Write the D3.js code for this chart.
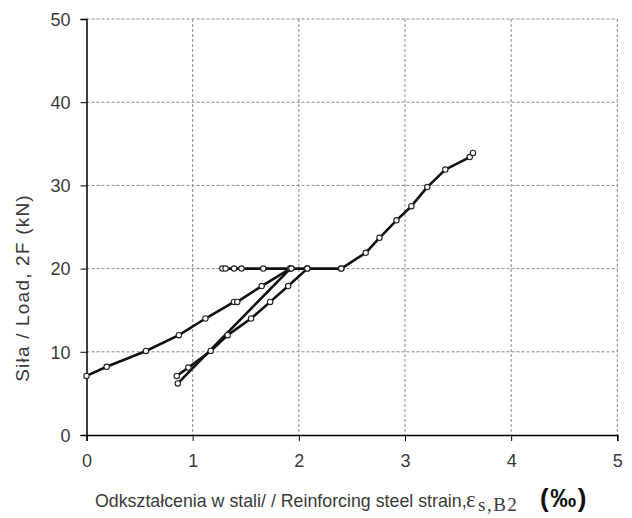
<!DOCTYPE html>
<html><head><meta charset="utf-8">
<script src="https://cdn.jsdelivr.net/npm/d3@7"></script>
<style>
body{margin:0;background:#fff;}
svg{display:block;}
text{font-family:"Liberation Sans",Arial,sans-serif;}
</style></head>
<body>
<svg id="chart" width="632" height="518"></svg>
<script>
// Data (strain in ‰, load in kN)
const loading1Strain = [0, 0.19, 0.56, 0.87, 1.12, 1.39, 1.42, 1.65, 1.92];
const loading1Load   = [7.1, 8.2, 10.1, 12.0, 14.0, 16.0, 16.0, 17.9, 20.0];
const unloadStrain   = [1.92, 0.86];
const unloadLoad     = [20.0, 6.2];
const reloadStrain   = [0.85, 0.96, 1.17, 1.33, 1.55, 1.73, 1.90, 2.08];
const reloadLoad     = [7.1, 8.1, 10.1, 12.0, 14.0, 16.0, 17.9, 20.0];
const holdStrain     = [1.28, 1.31, 1.39, 1.46, 1.665, 1.93, 2.08, 2.40];
const holdLoad       = [20, 20, 20, 20, 20, 20, 20, 20];
const finalStrain    = [2.40, 2.63, 2.76, 2.92, 3.06, 3.21, 3.38, 3.61, 3.64];
const finalLoad      = [20.0, 21.9, 23.7, 25.8, 27.5, 29.8, 31.9, 33.4, 33.9];
const xTicks = [0, 1, 2, 3, 4, 5];
const yTicks = [0, 10, 20, 30, 40, 50];

const segments = [
  [loading1Strain, loading1Load],
  [unloadStrain, unloadLoad],
  [reloadStrain, reloadLoad],
  [holdStrain, holdLoad],
  [finalStrain, finalLoad]
].map(([xs, ys]) => xs.map((x, i) => ({x, y: ys[i]})));

const svg = d3.select("#chart");
const m = {left: 86.5, right: 617.3, top: 19, bottom: 435};
const x = d3.scaleLinear().domain([0, 5]).range([m.left, m.right]);
const y = d3.scaleLinear().domain([0, 50]).range([m.bottom, m.top]);

// grid
const grid = svg.append("g");
grid.selectAll(".gx").data(xTicks.filter(d => d > 0)).join("line")
  .attr("x1", d => x(d)).attr("x2", d => x(d))
  .attr("y1", m.top).attr("y2", m.bottom)
  .attr("stroke", "#888").attr("stroke-width", 1).attr("stroke-dasharray", "3,2");
grid.selectAll(".gy").data(yTicks.filter(d => d > 0)).join("line")
  .attr("y1", d => y(d)).attr("y2", d => y(d))
  .attr("x1", m.left).attr("x2", m.right)
  .attr("stroke", "#888").attr("stroke-width", 1).attr("stroke-dasharray", "3,2");

// axes
const xAxis = svg.append("g").attr("transform", `translate(0,${m.bottom})`)
  .call(d3.axisBottom(x).tickValues(xTicks).tickSize(6).tickPadding(10).tickFormat(d3.format("d")));
const yAxis = svg.append("g").attr("transform", `translate(${m.left},0)`)
  .call(d3.axisLeft(y).tickValues(yTicks).tickSize(6).tickPadding(10).tickFormat(d3.format("d")));
[xAxis, yAxis].forEach(a => {
  a.select(".domain").attr("stroke", "#000").attr("stroke-width", 1.5);
  a.selectAll(".tick line").attr("stroke", "#000").attr("stroke-width", 1);
  a.selectAll(".tick text").attr("font-family", "Liberation Sans, Arial, sans-serif")
    .attr("font-size", 18).attr("fill", "#3a3a3a");
});
xAxis.selectAll(".tick text").attr("dy", "0.9em");
yAxis.selectAll(".tick text").attr("dy", "0.35em");

// lines
const line = d3.line().x(d => x(d.x)).y(d => y(d.y));
svg.append("g").selectAll("path").data(segments).join("path")
  .attr("d", line).attr("fill", "none").attr("stroke", "#111")
  .attr("stroke-width", 2.6).attr("stroke-linejoin", "round");

// markers
svg.append("g").selectAll("circle").data(segments.flat()).join("circle")
  .attr("cx", d => x(d.x)).attr("cy", d => y(d.y)).attr("r", 2.7)
  .attr("fill", "#fff").attr("stroke", "#222").attr("stroke-width", 1.1);

// axis titles
svg.append("text")
  .attr("transform", `translate(29,288) rotate(-90)`)
  .attr("text-anchor", "middle").attr("font-size", 19).attr("letter-spacing", 1.2).attr("fill", "#3a3a3a")
  .text("Siła  /  Load, 2F (kN)");

const xl = svg.append("text").attr("y", 507).attr("fill", "#3a3a3a");
xl.append("tspan").attr("x", 95).attr("font-size", 17.8).text("Odkształcenia w stali/ / Reinforcing steel strain,");
xl.append("tspan").attr("x", 466).attr("font-family", "Liberation Serif, Times New Roman, serif").attr("font-size", 23).text("ε");
xl.append("tspan").attr("x", 478).attr("font-family", "Liberation Serif, Times New Roman, serif").attr("font-size", 19).attr("letter-spacing", 1.5).attr("dy", 4).text("s,B2");
xl.append("tspan").attr("x", 540).attr("dy", -4).attr("font-size", 26).attr("font-weight", "bold").attr("letter-spacing", 1.5).attr("fill", "#111").text("(‰)");
</script>
</body></html>
